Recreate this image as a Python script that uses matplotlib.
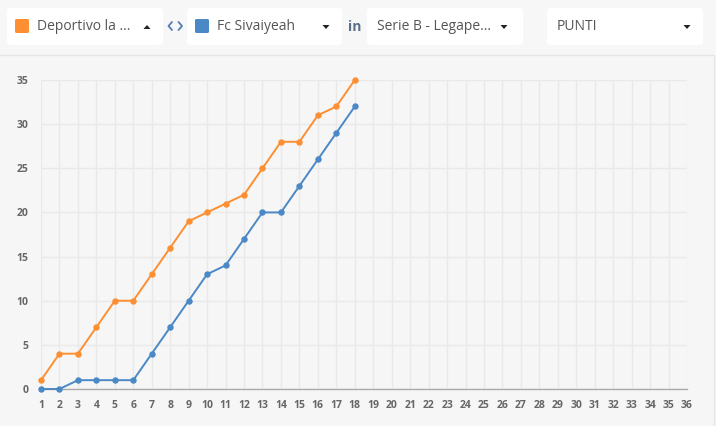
import matplotlib
matplotlib.use("Agg")
import matplotlib.pyplot as plt
from matplotlib.patches import FancyBboxPatch, Rectangle, Polygon

# ---- data ----
giornate = list(range(1, 37))
deportivo_punti = [1, 4, 4, 7, 10, 10, 13, 16, 19, 20, 21, 22, 25, 28, 28, 31, 32, 35]
sivaiyeah_punti = [0, 0, 1, 1, 1, 1, 4, 7, 10, 13, 14, 17, 20, 20, 23, 26, 29, 32]
team1_label = "Deportivo la ..."
team2_label = "Fc Sivaiyeah"
league_label = "Serie B - Legape..."
metric_label = "PUNTI"
y_ticks = [0, 5, 10, 15, 20, 25, 30, 35]

ORANGE = "#fd8f32"
BLUE = "#4a88c6"
W, H = 716, 426

plt.rcParams['font.family'] = ['Open Sans', 'DejaVu Sans']

fig = plt.figure(figsize=(W / 100, H / 100), dpi=100, facecolor="#f7f7f7")

# background / header layer in pixel coordinates
bg = fig.add_axes([0, 0, 1, 1], zorder=0)
bg.set_xlim(0, W)
bg.set_ylim(H, 0)
bg.axis("off")

# panel
bg.add_patch(Rectangle((-2, 55), 716, 380, facecolor="#f6f6f6", edgecolor="#e6e6e6", lw=1))

def box(x0, x1):
    bg.add_patch(FancyBboxPatch((x0, 8), x1 - x0, 37,
                                boxstyle="round,pad=0,rounding_size=4",
                                facecolor="white", edgecolor="none"))

def tri(cx, cy, up):
    if up:
        pts = [(cx - 3.5, cy + 2), (cx + 3.5, cy + 2), (cx, cy - 2)]
    else:
        pts = [(cx - 3.5, cy - 2), (cx + 3.5, cy - 2), (cx, cy + 2)]
    bg.add_patch(Polygon(pts, closed=True, facecolor="#222222", edgecolor="none"))

box(7, 163)
box(187, 342)
box(367, 523)
box(547, 703)

bg.add_patch(FancyBboxPatch((15, 19), 14, 14, boxstyle="round,pad=0,rounding_size=1.5",
                            facecolor=ORANGE, edgecolor="none"))
bg.add_patch(FancyBboxPatch((195, 19), 14, 14, boxstyle="round,pad=0,rounding_size=1.5",
                            facecolor=BLUE, edgecolor="none"))

tkw = dict(fontsize=10, color="#555555", va="center", ha="left")
bg.text(37, 26.5, team1_label, **tkw)
bg.text(217, 26.5, team2_label, **tkw)
bg.text(377, 26.5, league_label, **tkw)
bg.text(557, 26.5, metric_label, **tkw)
tri(147, 27, True)
tri(326, 27, False)
tri(504, 27, False)
tri(687, 27, False)
# "<>" chevrons
bg.plot([172, 168.5, 172], [22, 26, 30], color="#4f7fb3", lw=1.3, solid_capstyle="round")
bg.plot([178.5, 182, 178.5], [22, 26, 30], color="#4f7fb3", lw=1.3, solid_capstyle="round")
bg.text(354.5, 27, "in", fontsize=10, color="#5a6f88", ha="center", va="center", fontweight="bold")

# chart axes
ax = fig.add_axes([41 / W, (H - 389) / H, (687 - 41) / W, (389 - 80) / H], zorder=1)
ax.set_facecolor("none")
ax.set_xlim(1, 36)
ax.set_ylim(0, 35)
ax.set_xticks(giornate)
ax.set_xticklabels([str(g) for g in giornate])
ax.set_yticks(y_ticks)
ax.grid(True, color="#e9e9e9", lw=1)
ax.set_axisbelow(True)
for s in ["top", "right", "left"]:
    ax.spines[s].set_visible(False)
ax.spines["bottom"].set_color("#aaaaaa")
ax.spines["bottom"].set_linewidth(1)
ax.tick_params(axis="both", length=0, labelsize=7.5, labelcolor="#666666")
ax.tick_params(axis="x", pad=8)
ax.tick_params(axis="y", pad=9)
for lab in ax.get_xticklabels() + ax.get_yticklabels():
    lab.set_fontweight("bold")

x_played = giornate[:len(deportivo_punti)]
ax.plot(x_played, deportivo_punti, color=ORANGE, lw=1.4, marker="o", ms=3.6,
        clip_on=False, zorder=3)
ax.plot(x_played, sivaiyeah_punti, color=BLUE, lw=1.4, marker="o", ms=3.6,
        clip_on=False, zorder=3)

fig.savefig("out.png", dpi=100, facecolor=fig.get_facecolor())
